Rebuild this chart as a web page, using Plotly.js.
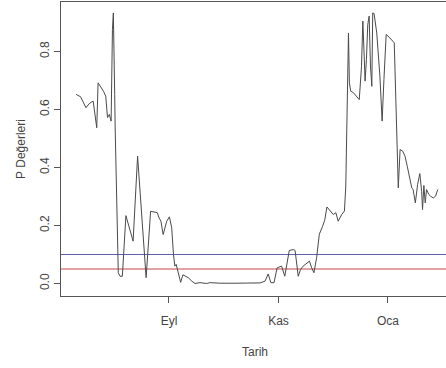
<!DOCTYPE html>
<html>
<head>
<meta charset="utf-8">
<script src="https://cdn.plot.ly/plotly-3.0.1.min.js"></script>
<style>
html,body{margin:0;padding:0;background:#fff;overflow:hidden;width:446px;height:368px;}
#chart{width:449px;height:368px;}
</style>
</head>
<body>
<div id="chart"></div>
<script>
// Dates (Tarih) and P-values (P Değerleri)
const dates = [
"2015-07-11 06:00","2015-07-13 18:00","2015-07-16 18:00","2015-07-18 12:00","2015-07-20 18:00",
"2015-07-22 18:00","2015-07-23 12:00","2015-07-26 12:00","2015-07-27 18:00","2015-07-28 18:00",
"2015-07-29 18:00","2015-07-30 18:00","2015-07-31 12:00","2015-08-01 00:00","2015-08-01 18:00",
"2015-08-02 00:00","2015-08-03 18:00","2015-08-04 18:00","2015-08-06 00:00","2015-08-08 00:00",
"2015-08-12 00:00","2015-08-14 12:00","2015-08-19 06:00","2015-08-21 18:00","2015-08-24 06:00",
"2015-08-25 12:00","2015-08-26 12:00","2015-08-27 12:00","2015-08-28 18:00","2015-08-30 18:00",
"2015-09-01 06:00","2015-09-02 12:00","2015-09-03 12:00","2015-09-04 06:00","2015-09-05 00:00",
"2015-09-06 06:00","2015-09-07 12:00","2015-09-08 18:00","2015-09-10 00:00","2015-09-11 18:00",
"2015-09-13 18:00","2015-09-15 12:00","2015-09-18 06:00","2015-09-22 00:00","2015-09-23 18:00",
"2015-09-29 12:00","2015-10-07 18:00","2015-10-16 06:00","2015-10-21 18:00","2015-10-24 12:00",
"2015-10-26 06:00","2015-10-27 18:00","2015-10-29 12:00","2015-10-31 06:00","2015-11-02 18:00",
"2015-11-04 12:00","2015-11-07 00:00","2015-11-09 06:00","2015-11-10 06:00","2015-11-12 00:00",
"2015-11-13 06:00","2015-11-14 18:00","2015-11-16 18:00","2015-11-18 06:00","2015-11-19 12:00",
"2015-11-20 18:00","2015-11-22 06:00","2015-11-23 18:00","2015-11-25 12:00","2015-11-26 18:00",
"2015-11-28 00:00","2015-11-29 18:00","2015-12-01 12:00","2015-12-03 00:00","2015-12-04 06:00",
"2015-12-06 06:00","2015-12-07 18:00","2015-12-08 12:00","2015-12-09 06:00","2015-12-10 00:00",
"2015-12-10 12:00","2015-12-11 06:00","2015-12-12 18:00","2015-12-16 00:00","2015-12-17 06:00",
"2015-12-18 00:00","2015-12-18 18:00","2015-12-19 06:00","2015-12-20 00:00","2015-12-20 18:00",
"2015-12-21 12:00","2015-12-22 06:00","2015-12-23 00:00","2015-12-23 12:00","2015-12-24 06:00",
"2015-12-25 18:00","2015-12-27 12:00","2015-12-28 18:00","2015-12-29 18:00","2015-12-31 00:00",
"2016-01-02 00:00","2016-01-04 12:00","2016-01-06 18:00","2016-01-07 18:00","2016-01-09 06:00",
"2016-01-10 12:00","2016-01-11 18:00","2016-01-13 06:00","2016-01-14 06:00","2016-01-15 00:00",
"2016-01-16 06:00","2016-01-17 12:00","2016-01-18 18:00","2016-01-19 18:00","2016-01-20 06:00",
"2016-01-21 00:00","2016-01-21 18:00","2016-01-22 12:00","2016-01-23 18:00","2016-01-24 18:00",
"2016-01-26 06:00","2016-01-27 12:00","2016-01-28 18:00"
];
const pValues = [
0.652,0.644,0.606,0.620,0.629,
0.537,0.692,0.663,0.646,0.572,
0.583,0.560,0.876,0.933,0.652,
0.540,0.037,0.025,0.025,0.234,
0.146,0.439,0.020,0.249,0.246,
0.244,0.226,0.215,0.169,0.215,
0.230,0.192,0.100,0.060,0.066,
0.030,0.004,0.030,0.025,0.020,
0.008,0.000,0.003,0.000,0.003,
0.001,0.001,0.002,0.002,0.008,
0.033,0.003,0.003,0.054,0.060,
0.025,0.114,0.117,0.114,0.025,
0.048,0.060,0.068,0.077,0.054,
0.037,0.089,0.170,0.196,0.218,
0.264,0.250,0.238,0.244,0.215,
0.238,0.250,0.336,0.658,0.864,
0.692,0.663,0.658,0.634,0.749,
0.905,0.784,0.698,0.772,0.893,
0.922,0.750,0.680,0.933,0.931,
0.864,0.715,0.560,0.703,0.859,
0.847,0.830,0.330,0.462,0.456,
0.439,0.404,0.353,0.330,0.324,
0.278,0.341,0.379,0.318,0.255,
0.338,0.278,0.324,0.307,0.301,
0.295,0.301,0.324
];
const thresholds = [0.1, 0.05];
const thresholdColors = ["rgb(95,95,175)", "rgb(200,70,70)"];
const xTickVals = ["2015-09-01", "2015-11-01", "2016-01-01"];
const xTickText = ["Eyl", "Kas", "Oca"];
const yTickVals = [0, 0.2, 0.4, 0.6, 0.8];
const yTickText = ["0.0", "0.2", "0.4", "0.6", "0.8"];
const xRange = ["2015-07-02 20:00", "2016-02-04 00:00"];
const yRange = [-0.0431, 0.9707];

const traces = thresholds.map((t, i) => ({
  x: xRange, y: [t, t], type: "scatter", mode: "lines",
  line: {color: thresholdColors[i], width: 1.2}, hoverinfo: "none"
}));
traces.push({
  x: dates, y: pValues, type: "scatter", mode: "lines",
  line: {color: "#4a4a4a", width: 1}, hoverinfo: "none"
});

const fam = "Liberation Sans, Arial, sans-serif";
const txt = {family: fam, size: 12, color: "#444"};

const layout = {
  width: 449, height: 368,
  margin: {l: 61, r: 0, t: 2, b: 72},
  paper_bgcolor: "#fff", plot_bgcolor: "#fff",
  showlegend: false,
  font: txt,
  xaxis: {
    type: "date", range: xRange,
    tickmode: "array", tickvals: xTickVals, ticktext: xTickText,
    ticks: "outside", ticklen: 6, tickcolor: "#555", tickwidth: 1,
    ticklabelstandoff: 8,
    showline: true, linecolor: "#555", linewidth: 1, mirror: true,
    showgrid: false, zeroline: false,
    tickfont: txt,
    title: {text: "Tarih", font: txt, standoff: 20},
    automargin: false
  },
  yaxis: {
    range: yRange,
    tickmode: "array", tickvals: yTickVals, ticktext: yTickText,
    tickangle: -90,
    ticks: "outside", ticklen: 6, tickcolor: "#555", tickwidth: 1,
    showline: true, linecolor: "#555", linewidth: 1, mirror: true,
    showgrid: false, zeroline: false,
    tickfont: txt,
    title: {text: "P Değerleri", font: txt, standoff: 10},
    automargin: false
  }
};

Plotly.newPlot("chart", traces, layout, {displayModeBar: false, staticPlot: true});
</script>
</body>
</html>
